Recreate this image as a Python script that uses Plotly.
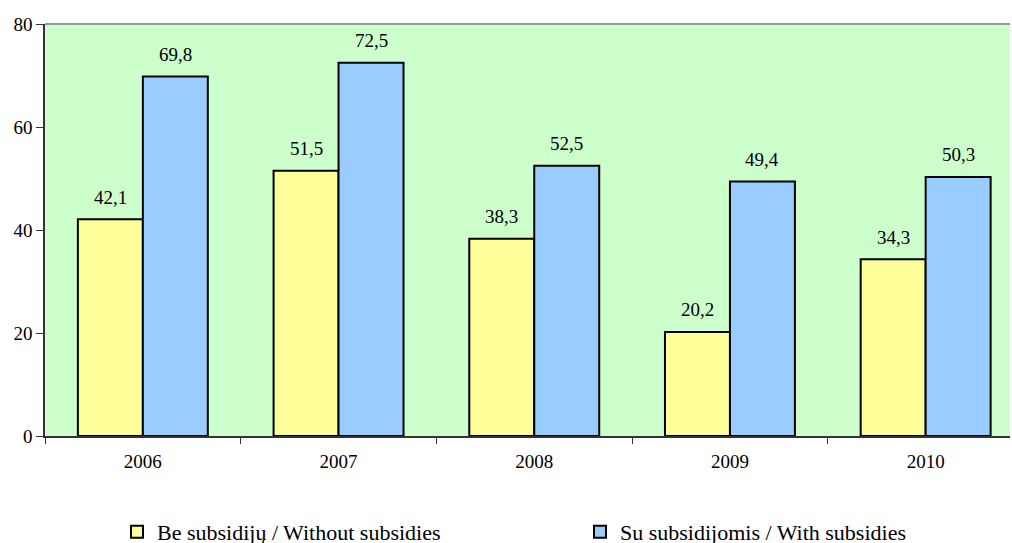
import plotly.graph_objects as go

years = ["2006", "2007", "2008", "2009", "2010"]
without_subs = [42.1, 51.5, 38.3, 20.2, 34.3]
with_subs = [69.8, 72.5, 52.5, 49.4, 50.3]
y_ticks = [0, 20, 40, 60, 80]

def fmt(v):
    return f"{v:.1f}".replace(".", ",")

FAMILY = "'Liberation Serif', 'Times New Roman', Times, 'DejaVu Serif', serif"
font = dict(family=FAMILY, size=19, color="black")
legend_font = dict(family=FAMILY, size=22, color="black")

W, H = 1012, 543

fig = go.Figure()
fig.add_trace(go.Bar(
    x=years, y=without_subs, name="Be subsidijų / Without subsidies",
    marker=dict(color="#ffff99", line=dict(color="black", width=2)),
    legend="legend",
))
fig.add_trace(go.Bar(
    x=years, y=with_subs, name="Su subsidijomis / With subsidies",
    marker=dict(color="#99ccff", line=dict(color="black", width=2)),
    legend="legend2",
))

annotations = []
for i, v in enumerate(without_subs):
    annotations.append(dict(x=i, y=v, xref="x", yref="y", text=fmt(v), showarrow=False,
                            xshift=-32.5, yshift=22, font=font, yanchor="middle"))
for i, v in enumerate(with_subs):
    annotations.append(dict(x=i, y=v, xref="x", yref="y", text=fmt(v), showarrow=False,
                            xshift=32.5, yshift=22, font=font, yanchor="middle"))

fig.update_layout(
    width=W, height=H,
    margin=dict(l=45, r=2, t=24, b=107, autoexpand=False),
    paper_bgcolor="white", plot_bgcolor="#ccffcc",
    font=font,
    barmode="group", bargap=0.336, bargroupgap=0,
    showlegend=True,
    legend=dict(xref="container", yref="container", x=117 / W, xanchor="left",
                y=1 - 532 / H, yanchor="middle", font=legend_font,
                bgcolor="rgba(0,0,0,0)"),
    legend2=dict(xref="container", yref="container", x=580 / W, xanchor="left",
                 y=1 - 532 / H, yanchor="middle", font=legend_font,
                 bgcolor="rgba(0,0,0,0)"),
    xaxis=dict(type="category", range=[-0.5, 4.431], showgrid=False, showline=True,
               linecolor="#333333", linewidth=1.5, ticks="outside", tickson="boundaries",
               ticklen=6, tickcolor="#333333", tickfont=font, ticklabelstandoff=7,
               tickangle=0, automargin=False),
    yaxis=dict(range=[0, 80], tickvals=y_ticks, showgrid=False, zeroline=False,
               showline=True, linecolor="#333333", linewidth=1.5,
               ticks="outside", ticklen=7, tickcolor="#333333", tickfont=font,
               automargin=False),
    shapes=[dict(type="line", xref="paper", yref="paper", x0=0, x1=1, y0=1, y1=1,
                 line=dict(color="#999999", width=2))],
    annotations=annotations,
)

fig.write_html("out.html", config={"displayModeBar": False},
               post_script="document.body.style.margin='0';document.body.style.overflow='hidden';")
